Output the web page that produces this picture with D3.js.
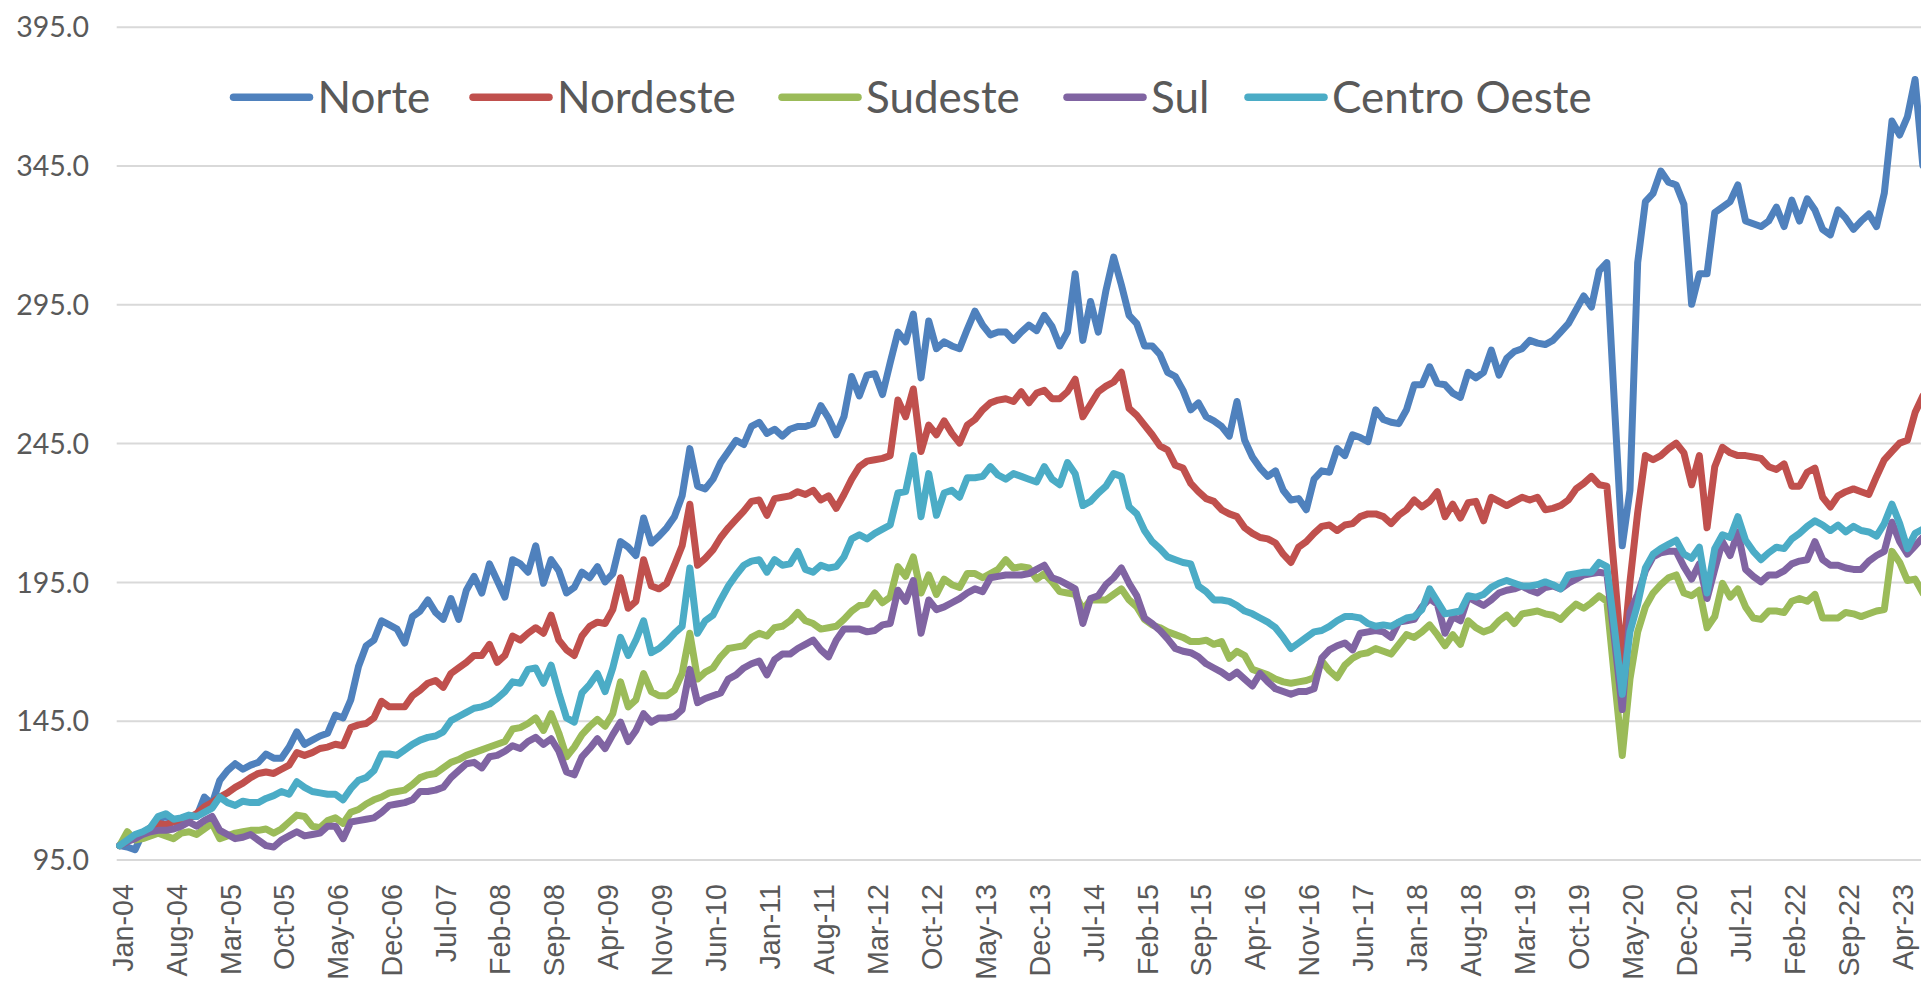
<!DOCTYPE html>
<html>
<head>
<meta charset="utf-8">
<script src="https://cdn.jsdelivr.net/npm/d3@7"></script>
<style>
  body { margin: 0; background: #fff; overflow: hidden; }
  svg { display: block; }
</style>
</head>
<body>
<svg id="chart" width="1921" height="982"></svg>
<script>
const yTicks = [95, 145, 195, 245, 295, 345, 395];
const seriesNames = ['Norte', 'Nordeste', 'Sudeste', 'Sul', 'Centro Oeste'];
const seriesColors = ['#4F81BD', '#C0504D', '#9BBB59', '#8064A2', '#4BACC6'];
const tickLabels = ['Jan-04', 'Aug-04', 'Mar-05', 'Oct-05', 'May-06', 'Dec-06', 'Jul-07', 'Feb-08',
  'Sep-08', 'Apr-09', 'Nov-09', 'Jun-10', 'Jan-11', 'Aug-11', 'Mar-12', 'Oct-12', 'May-13', 'Dec-13',
  'Jul-14', 'Feb-15', 'Sep-15', 'Apr-16', 'Nov-16', 'Jun-17', 'Jan-18', 'Aug-18', 'Mar-19', 'Oct-19',
  'May-20', 'Dec-20', 'Jul-21', 'Feb-22', 'Sep-22', 'Apr-23'];

// monthly index, Jan-04 = 100 (one row per year)
const norte = [
  100, 99.5, 98.5, 104.5, 106, 109.5, 110.5, 109, 109.5, 110.5, 110.5, 117.5,
  115, 123.5, 127, 129.5, 127.5, 129, 130, 133, 131.5, 131.5, 135.5, 141,
  136.5, 138, 139.5, 140.5, 147, 146, 152.5, 164.5, 172, 174, 181, 179.5,
  178, 173, 182.5, 184.5, 188.5, 184, 181.5, 189, 181.5, 192, 197, 191,
  201.5, 195.5, 189.5, 203, 201.5, 198.5, 208, 194.5, 203, 199, 191, 193,
  198.5, 196.5, 200.5, 195, 198, 209.5, 207.5, 204.5, 218, 209, 211.5, 214.5,
  218.5, 226, 243, 229.5, 228.5, 232, 238, 242, 246, 244.5, 251, 252.5,
  248.5, 250, 247.5, 250, 251, 251, 252, 258.5, 254, 248, 254.5, 269,
  262, 269.5, 270, 262.5, 274, 285, 281.5, 291.5, 268.5, 289, 279, 281.5,
  280, 279, 286, 292.5, 287.5, 284, 285, 285, 282, 285, 287.5, 285.5,
  291, 287, 280, 285, 306, 282, 296, 285, 300, 312, 302, 291,
  288, 280, 280, 277, 270.5, 269, 264, 257, 259.5, 254.5, 253, 251,
  247.5, 260, 246, 240, 236, 233, 235, 228, 224.5, 225, 221, 232,
  235, 234.5, 243, 240.5, 248, 247, 245.5, 257, 253.5, 252.5, 252, 257,
  266, 266, 272.5, 266.5, 266, 263, 261.5, 270.5, 268.5, 270.5, 278.5, 269.5,
  275.5, 278, 279, 282, 281, 280.5, 282, 285, 288, 293, 298, 294,
  307, 310, 258, 208, 228, 310, 332, 335, 343, 339, 338, 331,
  295, 306, 306, 328, 330, 332, 338, 325, 324, 323, 325, 330,
  323, 332.5, 325, 333, 329, 322, 320, 329, 326, 322, 325, 327.5,
  323, 335, 361, 356, 362.5, 376, 345
];
const nordeste = [
  100, 101.5, 103, 104.5, 106.5, 108, 107.5, 108.5, 109, 110, 111.5, 114,
  115.5, 117.5, 119, 121, 122.5, 124.5, 126, 126.5, 126, 127.5, 129, 133.5,
  132.5, 133.5, 135, 135.5, 136.5, 136, 142.5, 143.5, 144, 146, 152, 150,
  150, 150, 154, 156, 158.5, 159.5, 157, 162, 164, 166, 168.5, 168.5,
  172.5, 166, 168.5, 175.5, 174, 176.5, 178.5, 176.5, 183, 174, 170.5, 168.5,
  175.5, 179, 180.5, 180, 185, 196.5, 185.5, 188, 203, 193.5, 192.5, 194.5,
  201, 208, 223, 201, 203.5, 206.5, 211, 214.5, 217.5, 220.5, 224, 224.5,
  219, 225, 225.5, 226, 227.5, 226.5, 228, 224.5, 226, 221.5, 226.5, 232,
  236.5, 238.5, 239, 239.5, 240.5, 260.5, 254.5, 264.5, 242, 251.5, 248, 253,
  248.5, 245, 251.5, 253.5, 257, 259.5, 260.5, 261, 260, 263.5, 259.5, 263,
  264, 261, 261, 263.5, 268, 254.5, 259, 263.5, 265.5, 267, 270.5, 257.5,
  255, 251.5, 248, 244, 242.5, 237, 236, 230.5, 227.5, 225, 224, 221,
  219.5, 218.5, 214.5, 212.5, 211, 210.5, 209, 205, 202, 207.5, 209.5, 212.5,
  215, 215.5, 213.5, 215.5, 216, 218.5, 219.5, 219.5, 218.5, 216, 219, 221,
  224.5, 222, 224, 227.5, 218.5, 223, 218, 223.5, 224, 217, 225.5, 224,
  222.5, 224, 225.5, 224.5, 225.5, 221, 221.5, 222.5, 224.5, 228.5, 230.5, 233,
  230, 229.5, 198, 165, 195, 220, 240.5, 239, 240.5, 243, 245, 241.5,
  230, 240.5, 214.5, 236.5, 243.5, 241.5, 240.5, 240.5, 240, 239.5, 236.5, 235.5,
  237.5, 229.5, 229.5, 234.5, 236, 225.5, 222, 226, 227.5, 228.5, 227.5, 226.5,
  233, 239, 242, 245, 246, 256, 262
];
const sudeste = [
  100, 105, 102, 102.5, 103.5, 104.5, 103.5, 102.5, 104.5, 105, 104, 106,
  108, 102.5, 103.5, 104.5, 105, 105.5, 105.5, 106, 104.5, 106, 108.5, 111,
  110.5, 107, 106.5, 109, 110, 108, 112, 113, 115, 116.5, 117.5, 119,
  119.5, 120, 122, 124.5, 125.5, 126, 128, 130, 131, 132.5, 133.5, 134.5,
  135.5, 136.5, 137.5, 142, 142.5, 144, 146, 141.5, 147.5, 140.5, 132, 135.5,
  140, 143, 145.5, 143, 147.5, 159, 150, 152.5, 162, 155.5, 154, 154,
  156, 162, 176.5, 160, 162.5, 164, 168, 171, 171.5, 172, 175, 176.5,
  175.5, 178.5, 179, 181, 184, 181, 180, 178, 178.5, 179, 181.5, 184.5,
  186.5, 187, 191, 187.5, 189.5, 200.5, 197, 204, 191, 197.5, 190.5, 196,
  194, 193, 198, 198, 196.5, 198, 199.5, 203, 200, 200.5, 200, 196,
  198, 195, 191.5, 191, 190.5, 185, 188.5, 188.5, 188.5, 190.5, 192.5, 188.5,
  186, 181.5, 179.5, 178.5, 177, 176, 175, 173.5, 173.5, 174, 172.5, 173.5,
  167.5, 170, 168.5, 163.5, 162.5, 161.5, 160, 159, 158.5, 159, 159.5, 160.5,
  166.5, 163, 160.5, 165, 167.5, 169, 169.5, 171, 170, 169, 172.5, 176,
  175, 177, 179.5, 176, 172, 176, 172.5, 181, 178.5, 177, 178, 181,
  183, 180, 183.5, 184, 184.5, 183.5, 183, 181.5, 184.5, 187, 185.5, 187.5,
  190, 188, 160, 132.5, 160, 177, 186, 191, 194, 196.5, 197.5, 191,
  190, 192, 178.5, 182.5, 194.5, 189.5, 192.5, 186, 182, 181.5, 184.5, 184.5,
  184, 188, 189, 188, 190.5, 182, 182, 182, 184, 183.5, 182.5, 183.5,
  184.5, 185, 206, 202, 195.5, 196, 191
];
const sul = [
  100, 101.5, 102.5, 104, 105, 105.5, 105.5, 106, 107, 108.5, 107, 109,
  110.5, 105.5, 104, 102.5, 103, 104, 102, 100, 99.5, 102, 103.5, 105,
  103.5, 104, 104.5, 107, 107, 102.5, 108.5, 109, 109.5, 110, 112, 114.5,
  115, 115.5, 116.5, 119.5, 119.5, 120, 121, 124.5, 127, 129.5, 130, 128,
  132, 132.5, 134, 136, 135, 137.5, 139, 136.5, 138.5, 134, 126.5, 125.5,
  132, 135, 138.5, 135, 140, 144.5, 137.5, 141.5, 147.5, 144.5, 146, 146,
  146.5, 149, 163.5, 151.5, 153, 154, 155, 160, 161.5, 164, 165.5, 166.5,
  161.5, 167, 169, 169, 171, 172.5, 174, 170.5, 168, 174, 178, 178,
  178, 177, 177.5, 179.5, 180, 192, 188, 195.5, 176.5, 188.5, 185, 186,
  187.5, 189, 191, 192.5, 191.5, 196.5, 197, 197.5, 197.5, 197.5, 198, 199.5,
  201, 196.5, 195.5, 194, 192.5, 180, 189, 190, 194, 196.5, 200, 194.5,
  190, 182, 180, 177.5, 174.5, 171, 170, 169.5, 168, 165.5, 164, 162.5,
  160.5, 162.5, 160, 157.5, 162, 159, 156.5, 155.5, 154.5, 155.5, 155.5, 156.5,
  167.5, 170.5, 172, 173, 170.5, 176.5, 177, 177.5, 177, 175, 180.5, 181,
  181.5, 186, 189, 187, 176.5, 182.5, 181, 189.5, 188, 186.5, 188.5, 191,
  192, 192.5, 193.5, 192, 191, 193, 193.5, 192.5, 194.5, 196, 197.5, 198,
  198.5, 198, 174, 149, 184, 190.5, 199, 204, 205.5, 206, 206, 200.5,
  196, 201.5, 189, 199.5, 209.5, 204.5, 213, 199.5, 197, 195, 197.5, 197.5,
  199, 201.5, 202.5, 203, 209.5, 203, 201, 201, 200, 199.5, 199.5, 202.5,
  204.5, 206, 216.5, 209.5, 205, 208, 211
];
const centroOeste = [
  100, 102, 104, 105, 106.5, 110.5, 111.5, 109.5, 110, 111, 110.5, 112,
  113.5, 117.5, 115.5, 114.5, 116, 115.5, 115.5, 117, 118, 119.5, 118.5, 123,
  121, 119.5, 119, 118.5, 118.5, 116.5, 120.5, 123.5, 124.5, 127, 133, 133,
  132.5, 134.5, 136.5, 138, 139, 139.5, 141, 145, 146.5, 148, 149.5, 150,
  151, 153, 155.5, 159, 158.5, 163.5, 164, 158.5, 165, 155, 146, 144.5,
  155, 158, 162, 155.5, 164, 175, 168.5, 174, 181, 169.5, 171, 173.5,
  176.5, 179, 200, 176.5, 181, 183, 188.5, 193.5, 197.5, 201, 202.5, 203,
  198.5, 203, 201, 201.5, 206, 199.5, 198.5, 201, 200, 200.5, 204, 210.5,
  212, 210.5, 212.5, 214, 215.5, 227, 227.5, 240.5, 218.5, 234, 219, 227,
  228, 225.5, 232.5, 232.5, 233, 236.5, 233.5, 232, 234, 233, 232, 231,
  236.5, 232, 230, 238, 234, 222.5, 224, 227, 229.5, 234, 233, 222,
  219.5, 213.5, 209.5, 207, 204, 203, 202, 201.5, 193.5, 191.5, 188.5, 188.5,
  188, 186.5, 184.5, 183.5, 182, 180.5, 178.5, 175, 171, 173, 175, 177,
  177.5, 179, 181, 182.5, 182.5, 182, 180, 179, 179.5, 179, 180.5, 182,
  182.5, 185, 192.5, 188, 183.5, 184, 184.5, 190, 189.5, 190.5, 193, 194.5,
  195.5, 194.5, 193.5, 193.5, 194, 195, 194, 192.5, 197.5, 198, 198.5, 198.5,
  202, 200.5, 178, 154.5, 177, 187, 200, 205, 207, 208.5, 210, 205,
  203.5, 207.5, 191, 207, 212, 211, 218.5, 210, 206, 203, 205.5, 207.5,
  207, 210.5, 212.5, 215, 217, 215.5, 213.5, 215.5, 213, 215, 213.5, 213,
  211.5, 216, 223, 216, 207, 212.5, 214
];
const seriesValues = [norte, nordeste, sudeste, sul, centroOeste];

const width = 1921;
const height = 982;
const plotLeft = 116.7;
const textColor = '#595959';
const gridColor = '#d9d9d9';

const months = d3.timeMonth.range(new Date(2004, 0, 1), new Date(2004, norte.length, 1));
const monthLabels = months.map(d3.timeFormat('%b-%y'));

const svg = d3.select('#chart');
svg.append('rect').attr('width', width).attr('height', height).attr('fill', '#fff');

const xScale = d3.scalePoint()
  .domain(monthLabels)
  .range([119.6, 119.6 + 7.706 * (monthLabels.length - 1)]);
const yScale = d3.scaleLinear().domain([95, 395]).range([859.5, 26.7]);

// horizontal gridlines + value labels
const yAxis = d3.axisLeft(yScale)
  .tickValues(yTicks)
  .tickSize(-(width - plotLeft))
  .tickPadding(plotLeft - 89)
  .tickFormat(d3.format('.1f'));
const yG = svg.append('g').attr('transform', `translate(${plotLeft},0)`).call(yAxis);
yG.select('.domain').remove();
yG.selectAll('line').attr('stroke', gridColor).attr('stroke-width', 2);
yG.selectAll('text')
  .attr('fill', textColor)
  .attr('dy', '0.36em')
  .style('font-family', 'Lato, "Open Sans", sans-serif')
  .style('font-size', '28.5px');

// month labels, rotated
const xAxis = d3.axisBottom(xScale).tickValues(tickLabels).tickSize(0);
const xG = svg.append('g').attr('transform', `translate(0,${yScale(95)})`).call(xAxis);
xG.select('.domain').remove();
xG.selectAll('text')
  .attr('transform', 'rotate(-90)')
  .attr('text-anchor', 'end')
  .attr('x', -24.5)
  .attr('y', 2.5)
  .attr('dy', '0.35em')
  .attr('fill', textColor)
  .style('font-family', '"Liberation Sans", Arial, sans-serif')
  .style('font-size', '28.7px');

// series
const line = d3.line()
  .x((d, i) => xScale(monthLabels[i]))
  .y(d => yScale(d));
svg.append('g')
  .selectAll('path')
  .data(seriesValues)
  .join('path')
  .attr('d', line)
  .attr('fill', 'none')
  .attr('stroke', (d, i) => seriesColors[i])
  .attr('stroke-width', 7)
  .attr('stroke-linejoin', 'round')
  .attr('stroke-linecap', 'round');

// legend
const legendStarts = [233.5, 473, 782, 1067, 1248];
const legendY = 97.3;
const legend = svg.append('g')
  .selectAll('g')
  .data(seriesNames)
  .join('g')
  .attr('transform', (d, i) => `translate(${legendStarts[i]},${legendY})`);
legend.append('line')
  .attr('x1', 0)
  .attr('x2', 76)
  .attr('stroke', (d, i) => seriesColors[i])
  .attr('stroke-width', 7.5)
  .attr('stroke-linecap', 'round');
legend.append('text')
  .attr('x', 84)
  .attr('y', 15.7)
  .attr('fill', textColor)
  .style('font-family', 'Lato, "Open Sans", sans-serif')
  .style('font-size', '44px')
  .text(d => d);
</script>
</body>
</html>
